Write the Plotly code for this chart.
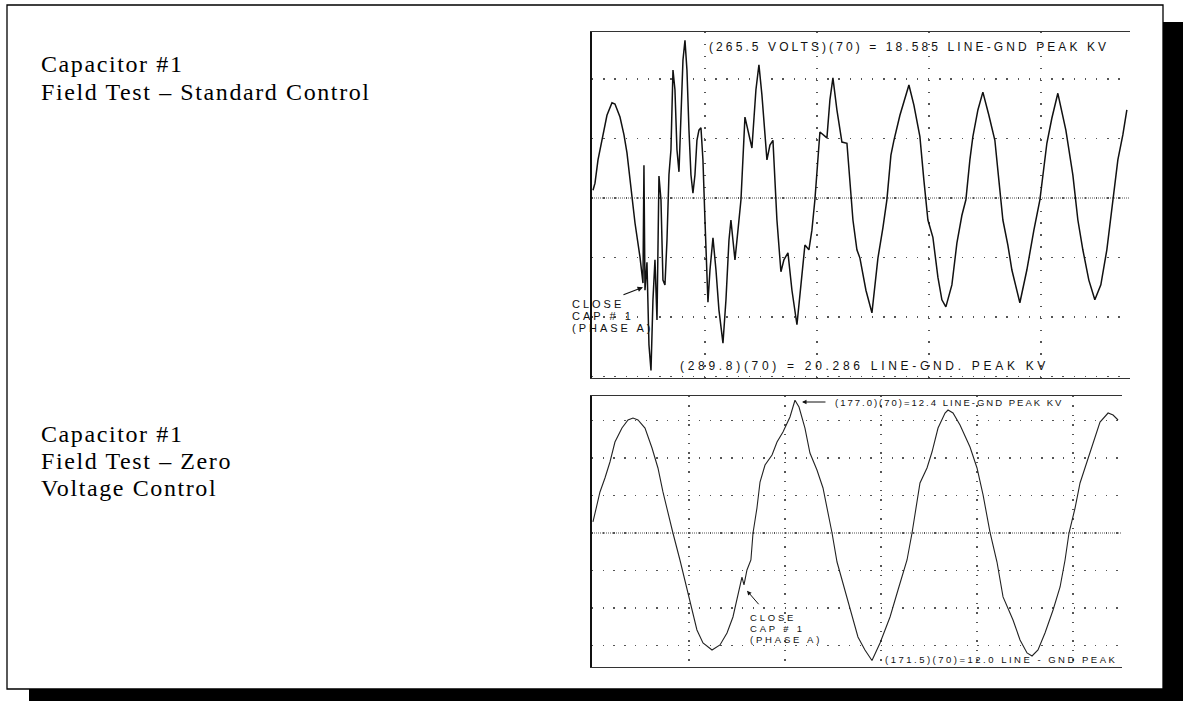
import plotly.graph_objects as go

W, H = 1183, 701

# ---------------- data ----------------
# Top scope trace: standard control (time in ms, 25 ms/div; volts, 100 V/div)
top_t = [0.0, 0.45, 1.12, 2.23, 3.12, 4.24, 4.91, 6.03, 6.92, 7.59, 8.26, 8.71, 9.38, 10.49, 11.16, 11.38,
         11.61, 12.05, 12.50, 12.95, 13.39, 13.84, 14.29, 14.73, 15.18, 15.62, 16.07, 16.52, 16.96, 17.41,
         17.86, 18.30, 18.75, 19.20, 19.64, 20.09, 20.54, 20.98, 21.43, 21.87, 22.32, 22.77, 23.21, 23.66,
         24.11, 24.55, 25.00, 25.45, 25.67, 26.12, 26.79, 27.46, 28.12, 29.02, 29.69, 30.36, 30.80, 31.25,
         31.70, 32.37, 33.04, 33.93, 34.60, 35.49, 36.38, 37.05, 37.72, 38.84, 39.51, 40.18, 41.07, 41.96,
         42.63, 43.53, 44.42, 45.54, 46.43, 47.32, 48.21, 48.88, 49.55, 50.67, 52.23, 52.90, 53.57, 54.46,
         55.58, 56.70, 58.04, 58.93, 59.60, 60.94, 62.28, 63.17, 63.62, 64.73, 65.62, 66.52, 67.19, 68.53,
         70.54, 71.65, 72.99, 73.88, 74.78, 75.89, 77.01, 77.90, 78.79, 80.13, 81.25, 82.37, 83.26, 84.15,
         84.82, 85.94, 87.05, 88.39, 89.73, 90.62, 91.52, 92.63, 93.53, 95.31, 96.87, 98.44, 99.78, 101.34,
         102.45, 103.79, 105.58, 107.14, 108.26, 109.37, 110.71, 112.05, 113.39, 114.73, 116.07, 117.19,
         118.30, 119.20]
top_v = [13, 25, 64, 103, 139, 160, 158, 136, 106, 76, 30, 2, -42, -99, -143, 55,
         -155, -108, -247, -290, -171, -104, -205, 37, -3, -138, -146, -71, 39, 81,
         215, 182, 81, 44, 131, 232, 265, 215, 114, 39, 8, 39, 97, 114,
         118, 64, -37, -155, -175, -121, -67, -121, -188, -244, -171, -71, -37, -71,
         -104, -54, -3, 136, 114, 84, 182, 224, 173, 64, 89, 97, -37, -124,
         -104, -92, -155, -213, -146, -79, -87, -54, -3, 111, 101, 165, 202, 148,
         94, 92, -37, -87, -101, -155, -193, -138, -101, -50, -3, 72, 97, 139,
         190, 156, 103, 30, -37, -66, -133, -171, -183, -146, -76, -29, -3, 64,
         103, 148, 178, 139, 97, 30, -37, -79, -121, -176, -121, -54, -3, 92,
         134, 176, 114, 39, -37, -87, -138, -171, -146, -87, -3, 64,
         106, 148]

# Bottom scope trace: zero voltage control (time in ms, 10 ms/div; volts, 50 V/div)
bot_t = [0.00, 0.21, 0.73, 1.25, 1.77, 2.29, 3.02, 3.65, 4.17, 4.69, 5.42, 6.15, 6.77, 7.29, 7.81, 8.33,
         9.06, 9.79, 10.31, 10.83, 11.46, 12.40, 13.23, 13.96, 14.58, 15.31, 15.52, 15.73, 16.04, 16.45,
         16.67, 17.08, 17.40, 17.92, 18.65, 19.17, 19.79, 20.52, 21.04, 21.46, 22.08, 22.60, 23.33, 23.96,
         24.48, 24.90, 25.42, 26.46, 27.08, 27.60, 28.33, 29.06, 29.90, 30.94, 31.77, 32.71, 33.23, 33.75,
         34.06, 34.79, 35.31, 35.94, 36.67, 36.98, 37.50, 38.23, 39.27, 40.00, 40.63, 41.35, 42.08, 42.71,
         43.75, 44.48, 45.21, 45.73, 46.35, 47.08, 47.92, 48.65, 49.17, 49.58, 50.21, 50.73, 51.46, 52.08,
         52.81, 53.65, 54.17, 54.69]
bot_v = [14.7, 26.7, 54.7, 73.3, 94.7, 121.3, 140, 150.7, 153.3, 150.7, 140, 113.3, 86.7, 54.7, 26.7, 0,
         -36, -76, -102.7, -129.3, -146.7, -156, -149.3, -133.3, -112, -72, -58.7, -69.3, -49.3, -36,
         0, 33.3, 68, 90.7, 104, 121.3, 134.7, 154.7, 177, 168, 140, 106.7, 84, 60,
         26.7, 0, -38.7, -85.3, -112, -138.7, -156, -170, -146.7, -112, -76, -36, 0, 41.3,
         66.7, 86.7, 108, 140, 160, 164, 160, 144, 114.7, 86.7, 50.7, 1.3, -38.7, -85.3,
         -116, -142.7, -160, -164, -156, -133.3, -102.7, -72, -36, 0, 33.3, 66.7, 94.7, 121.3,
         148, 160, 157.3, 150.7]

# texts
left_top_lines = ["Capacitor #1", "Field Test \u2013 Standard Control"]
left_bot_lines = ["Capacitor #1", "Field Test \u2013 Zero", "Voltage Control"]
top_peak_label = "(265.5 VOLTS)(70) = 18.585 LINE-GND PEAK KV"
top_trough_label = "(289.8)(70) = 20.286 LINE-GND. PEAK KV"
top_close_lines = ["CLOSE", "CAP # 1", "(PHASE A)"]
bot_peak_label = "(177.0)(70)=12.4 LINE-GND PEAK KV"
bot_trough_label = "(171.5)(70)=12.0 LINE - GND PEAK"
bot_close_lines = ["CLOSE", "CAP # 1", "(PHASE A)"]


def px(x):
    return x / W


def py(y):
    return 1 - y / H


def spaced(s, ls):
    return '<span style="letter-spacing:%.1fpx">%s</span>' % (ls, s)


fig = go.Figure()
fig.add_trace(go.Scatter(x=top_t, y=top_v, mode="lines", xaxis="x", yaxis="y",
                         line=dict(color="#111111", width=1.5), hoverinfo="skip", showlegend=False))
fig.add_trace(go.Scatter(x=bot_t, y=bot_v, mode="lines", xaxis="x2", yaxis="y2",
                         line=dict(color="#222222", width=1.1), hoverinfo="skip", showlegend=False))

common = dict(showticklabels=False, ticks="", zeroline=False, showgrid=True, gridcolor="#555555",
              gridwidth=1.4, fixedrange=True, automargin=False)

# paper is black; white page areas are laid on top (below the plots), leaving the drop shadow
fig.update_layout(
    width=W, height=H, margin=dict(l=0, r=0, t=0, b=0, pad=0, autoexpand=False),
    paper_bgcolor="black", plot_bgcolor="white", showlegend=False,
    xaxis=dict(domain=[px(592), px(1130)], range=[-0.22, 119.9], tick0=0, dtick=25,
               griddash="1.4px,10.5px", showline=True, mirror=True, linecolor="#333333",
               linewidth=1, anchor="y", **common),
    yaxis=dict(domain=[py(378), py(32)], range=[-302.5, 279], tick0=0, dtick=100,
               griddash="1.4px,9.8px", showline=True, mirror=False, linecolor="#111111",
               linewidth=2, anchor="x", **common),
    xaxis2=dict(domain=[px(592), px(1122)], range=[-0.1, 55.1], tick0=0, dtick=10,
                griddash="1.4px,8px", showline=True, mirror=True, linecolor="#333333",
                linewidth=1, anchor="y2", **common),
    yaxis2=dict(domain=[py(667), py(396)], range=[-178.7, 182.7], tick0=0, dtick=50,
                griddash="1.4px,9.3px", showline=True, mirror=False, linecolor="#111111",
                linewidth=2, anchor="x2", **common),
)

shapes = []
shapes.append(dict(type="rect", xref="paper", yref="paper", x0=0, x1=px(1163), y0=py(689), y1=1,
                   line=dict(width=0), fillcolor="white", layer="below"))
shapes.append(dict(type="rect", xref="paper", yref="paper", x0=px(1160), x1=1, y0=py(22), y1=1,
                   line=dict(width=0), fillcolor="white", layer="below"))
shapes.append(dict(type="rect", xref="paper", yref="paper", x0=0, x1=px(29), y0=0, y1=py(686),
                   line=dict(width=0), fillcolor="white", layer="below"))
# outer frame
shapes.append(dict(type="rect", xref="paper", yref="paper", x0=px(7), x1=px(1163), y0=py(689), y1=py(5),
                   line=dict(color="black", width=1.3), fillcolor="rgba(0,0,0,0)"))
# dense centre lines of the scope graticules
shapes.append(dict(type="line", xref="x domain", yref="y", x0=0, x1=1, y0=0, y1=0, layer="below",
                   line=dict(color="#555555", width=1, dash="1px,1px")))
shapes.append(dict(type="line", xref="x2 domain", yref="y2", x0=0, x1=1, y0=0, y1=0, layer="below",
                   line=dict(color="#555555", width=1, dash="1px,1px")))
fig.update_layout(shapes=shapes)

ann = []
serif = dict(family="Liberation Serif, Times New Roman, serif", size=24, color="black")
for i, s in enumerate(left_top_lines):
    ann.append(dict(xref="paper", yref="paper", x=px(39), y=py(64 + 28 * i), text=spaced(s, 1.6),
                    showarrow=False, xanchor="left", yanchor="middle", font=serif))
for i, s in enumerate(left_bot_lines):
    ann.append(dict(xref="paper", yref="paper", x=px(39), y=py(434 + 27 * i), text=spaced(s, 1.6),
                    showarrow=False, xanchor="left", yanchor="middle", font=serif))

sans = "Liberation Sans, Arial, sans-serif"
scope_col = "#111111"
ann.append(dict(xref="paper", yref="paper", x=px(707), y=py(47), text=spaced(top_peak_label, 3.1),
                showarrow=False, xanchor="left", yanchor="middle", font=dict(family=sans, size=12, color=scope_col)))
ann.append(dict(xref="paper", yref="paper", x=px(678), y=py(366), text=spaced(top_trough_label, 3.7),
                showarrow=False, xanchor="left", yanchor="middle", font=dict(family=sans, size=12, color=scope_col)))
for i, s in enumerate(top_close_lines):
    ann.append(dict(xref="paper", yref="paper", x=px(570), y=py(304 + 12 * i), text=spaced(s, 3.0),
                    showarrow=False, xanchor="left", yanchor="middle",
                    font=dict(family=sans, size=11, color=scope_col)))
ann.append(dict(xref="paper", yref="paper", x=px(833), y=py(402), text=spaced(bot_peak_label, 2.0),
                showarrow=False, xanchor="left", yanchor="middle", font=dict(family=sans, size=9.5, color=scope_col)))
ann.append(dict(xref="paper", yref="paper", x=px(883), y=py(659), text=spaced(bot_trough_label, 2.5),
                showarrow=False, xanchor="left", yanchor="middle", font=dict(family=sans, size=9.5, color=scope_col)))
for i, s in enumerate(bot_close_lines):
    ann.append(dict(xref="paper", yref="paper", x=px(748), y=py(617 + 11 * i), text=spaced(s, 2.8),
                    showarrow=False, xanchor="left", yanchor="middle",
                    font=dict(family=sans, size=9.5, color=scope_col)))

# arrows
ann.append(dict(xref="x", yref="y", x=11.16, y=-150, ax=-21, ay=8, text="", showarrow=True,
                arrowhead=2, arrowsize=0.9, arrowwidth=1.2, arrowcolor=scope_col))
ann.append(dict(xref="x2", yref="y2", x=16.04, y=-77, ax=13, ay=15, text="", showarrow=True,
                arrowhead=2, arrowsize=0.9, arrowwidth=1, arrowcolor=scope_col))
ann.append(dict(xref="x2", yref="y2", x=21.77, y=174.7, ax=25, ay=0, text="", showarrow=True,
                arrowhead=2, arrowsize=0.9, arrowwidth=1, arrowcolor=scope_col))
fig.update_layout(annotations=ann)

fig.write_html(
    "out.html",
    config={"displayModeBar": False, "staticPlot": True},
    post_script=("document.documentElement.style.overflow='hidden';"
                 "document.body.style.margin='0';document.body.style.overflow='hidden';"),
)
